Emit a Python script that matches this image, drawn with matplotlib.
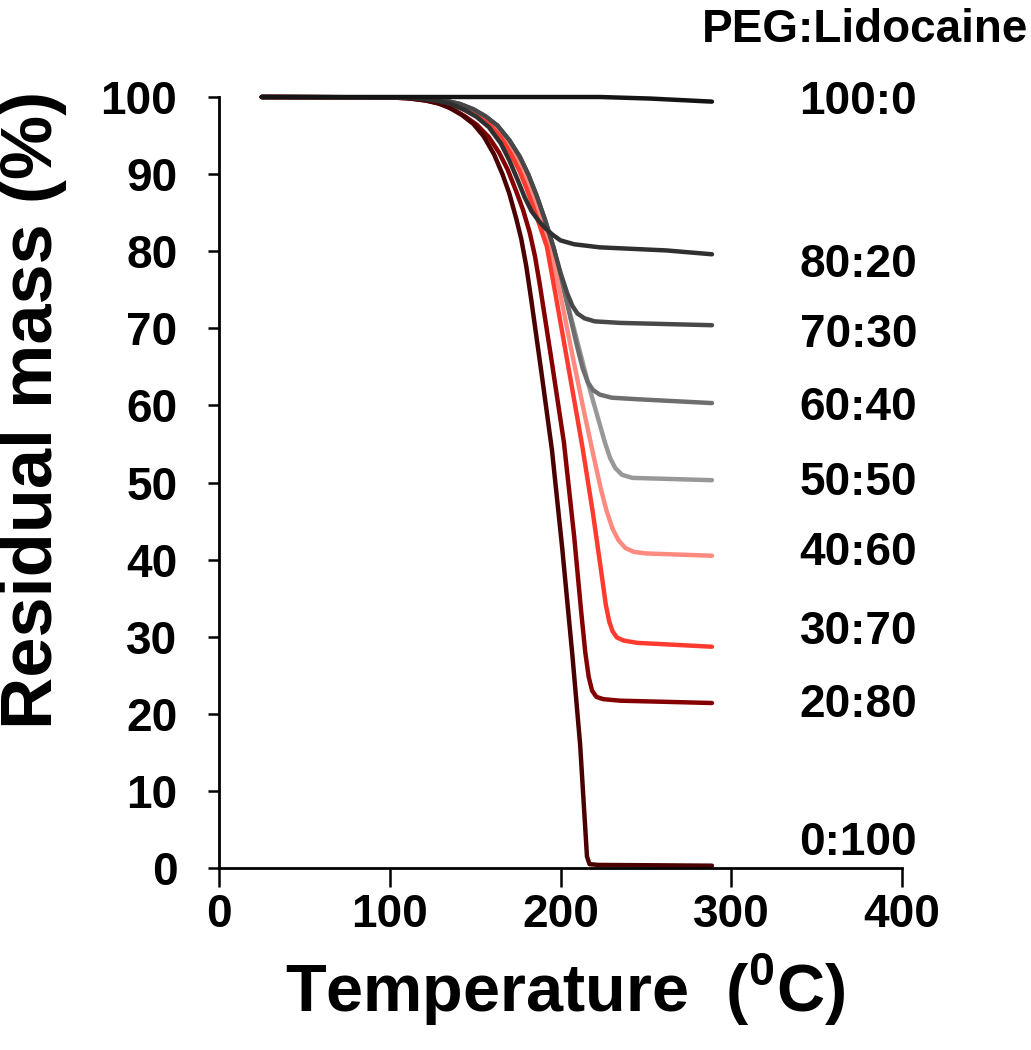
import matplotlib
matplotlib.use("Agg")
import matplotlib.pyplot as plt


# PEG:Lidocaine ratios
LABELS = ["100:0", "80:20", "70:30", "60:40", "50:50", "40:60", "30:70", "20:80", "0:100"]
COLORS = ["#141414", "#303030", "#484848", "#6e6e6e", "#989898",
          "#ff8a80", "#ff3b30", "#850000", "#4a0000"]

T_100_0 = [25, 100, 164.6, 223.1, 252.4, 288.7]
M_100_0 = [100, 100, 100, 100.0, 99.8, 99.4]

T_80_20 = [25, 105, 118, 128, 136, 144, 151, 158, 165, 170, 175, 179, 183, 187, 191, 195, 200, 208, 223, 262, 288.7]
M_80_20 = [100, 99.95, 99.8, 99.5, 99.1, 98.3, 97.4, 96.1, 94.0, 91.8, 89.2, 87.0, 85.2, 84.0, 83.0, 82.2, 81.4, 80.9, 80.5, 80.1, 79.6]

T_70_30 = [25, 108, 122, 133, 141, 149, 156, 163, 170, 176, 181, 186, 191, 196, 200, 204, 207, 210, 214, 220, 235, 288.7]
M_70_30 = [100, 99.95, 99.8, 99.5, 99.1, 98.4, 97.5, 96.3, 94.4, 92.3, 90.0, 87.2, 84.0, 80.4, 77.2, 74.5, 72.9, 71.9, 71.3, 70.9, 70.7, 70.4]

T_60_40 = [25, 108, 122, 133, 141, 149, 156, 163, 170, 176, 181, 186, 191, 196, 202, 206, 210, 213, 216, 219, 223, 230, 245, 288.7]
M_60_40 = [100, 99.95, 99.8, 99.5, 99.1, 98.4, 97.5, 96.3, 94.4, 92.3, 90.0, 87.2, 84.0, 80.4, 75.0, 71.2, 67.4, 64.8, 63.0, 62.0, 61.4, 61.0, 60.8, 60.3]

T_50_50 = [25, 108, 122, 133, 141, 149, 156, 163, 170, 176, 181, 186, 191, 196, 202, 209, 216, 222, 226, 229, 232, 236, 242, 288.7]
M_50_50 = [100, 99.95, 99.8, 99.5, 99.1, 98.4, 97.5, 96.3, 94.4, 92.3, 90.0, 87.2, 84.0, 80.4, 75.0, 69.0, 63.0, 58.3, 55.2, 53.2, 51.9, 51.0, 50.6, 50.3]

T_40_60 = [25, 105, 120, 130, 138, 146, 153, 160, 167, 173, 178, 182, 186, 190, 194, 200, 207, 213, 219, 223.5, 227, 230.5, 234, 238, 243, 250, 288.7]
M_40_60 = [100, 99.95, 99.8, 99.5, 99.1, 98.3, 97.5, 96.5, 94.8, 92.6, 90.4, 88.3, 85.9, 83.3, 80.6, 74.3, 66.5, 60.0, 53.8, 49.3, 46.3, 44.0, 42.5, 41.5, 41.0, 40.8, 40.5]

T_30_70 = [25, 105, 118, 128, 136, 144, 151, 158, 165, 171, 176, 180, 184, 188, 192, 197, 205, 213, 219, 223.5, 226.5, 228.5, 230.5, 233, 237, 245, 288.7]
M_30_70 = [100, 99.95, 99.8, 99.5, 99.1, 98.3, 97.5, 96.5, 94.8, 92.6, 90.4, 88.2, 85.8, 83.2, 80.6, 74.5, 64.5, 54.4, 46.0, 39.0, 34.2, 32.0, 30.7, 29.9, 29.5, 29.2, 28.7]

T_20_80 = [25, 100, 112, 122, 130, 137, 144, 151, 158, 164, 169, 174, 178, 182, 185, 188, 195, 202, 208, 212, 214.5, 216.5, 218.5, 221, 225, 235, 288.7]
M_20_80 = [100, 99.95, 99.8, 99.5, 99.1, 98.4, 97.5, 96.4, 94.8, 92.8, 90.6, 87.8, 85.4, 82.4, 79.4, 75.5, 65.5, 55.2, 43.0, 33.5, 28.0, 24.8, 23.0, 22.2, 21.9, 21.7, 21.4]

T_0_100 = [25, 100, 110, 120, 128, 135, 142, 149, 155, 161, 166, 170, 174, 177, 180, 183, 189, 195, 201, 207, 211.5, 215.5, 217, 222, 288.7]
M_0_100 = [100, 99.95, 99.85, 99.6, 99.2, 98.6, 97.7, 96.5, 94.9, 92.6, 90.0, 87.5, 84.3, 81.6, 78.0, 73.5, 64.0, 54.2, 41.5, 27.5, 16.0, 1.5, 0.5, 0.4, 0.3]

SERIES = {
    "100:0": (T_100_0, M_100_0),
    "80:20": (T_80_20, M_80_20),
    "70:30": (T_70_30, M_70_30),
    "60:40": (T_60_40, M_60_40),
    "50:50": (T_50_50, M_50_50),
    "40:60": (T_40_60, M_40_60),
    "30:70": (T_30_70, M_30_70),
    "20:80": (T_20_80, M_20_80),
    "0:100": (T_0_100, M_0_100),
}

# where the ratio labels sit on the right (y in data units)
LABEL_Y = [99.3, 78.2, 69.1, 59.7, 49.9, 40.9, 30.6, 21.1, 3.2]
DRAW_ORDER = ["50:50", "60:40", "40:60", "30:70", "20:80", "0:100", "70:30", "80:20", "100:0"]

X_TICKS = [0, 100, 200, 300, 400]
Y_TICKS = [0, 10, 20, 30, 40, 50, 60, 70, 80, 90, 100]

plt.rcParams["font.family"] = ["Liberation Sans", "DejaVu Sans"]
plt.rcParams["font.weight"] = "bold"
plt.rcParams["mathtext.fontset"] = "custom"
plt.rcParams["mathtext.rm"] = "Liberation Sans:bold"
plt.rcParams["mathtext.bf"] = "Liberation Sans:bold"

W, H = 1031, 1050
fig = plt.figure(figsize=(W / 100, H / 100), dpi=100)
ax = fig.add_axes([219 / W, 1 - 868 / H, (902 - 219) / W, (868 - 97) / H])

for name in DRAW_ORDER:
    t, m = SERIES[name]
    color = COLORS[LABELS.index(name)]
    ax.plot(t, m, color=color, linewidth=3.2, solid_joinstyle="round",
            solid_capstyle="round", clip_on=False)

ax.set_xlim(0, 400)
ax.set_ylim(0, 100)
ax.set_xticks(X_TICKS)
ax.set_yticks(Y_TICKS)

for side in ["top", "right"]:
    ax.spines[side].set_visible(False)
for side in ["left", "bottom"]:
    ax.spines[side].set_linewidth(2.0)
    ax.spines[side].set_color("black")

ax.tick_params(axis="x", direction="out", length=14, width=1.8, pad=4, labelsize=33)
ax.tick_params(axis="y", direction="out", length=8, width=1.8, pad=22, labelsize=33)
for lab in ax.get_xticklabels() + ax.get_yticklabels():
    lab.set_fontweight("bold")

for name, y in zip(LABELS, LABEL_Y):
    ax.text(340, y, name, fontsize=33, fontweight="bold", ha="left", va="center",
            clip_on=False)

fig.text(1028 / W, 1 - 30 / H, "PEG:Lidocaine", fontsize=33, fontweight="bold",
         ha="right", va="center")

fig.text(565 / W, 1 - 990 / H, r"Temperature  ($^{0}$C)", fontsize=48, fontweight="bold",
         ha="center", va="center", family=["Liberation Sans Narrow", "Liberation Sans"])
fig.text(33 / W, 1 - 410 / H, "Residual mass (%)", fontsize=52, fontweight="bold",
         ha="center", va="center", rotation=90)

fig.savefig("out.png", dpi=100)
